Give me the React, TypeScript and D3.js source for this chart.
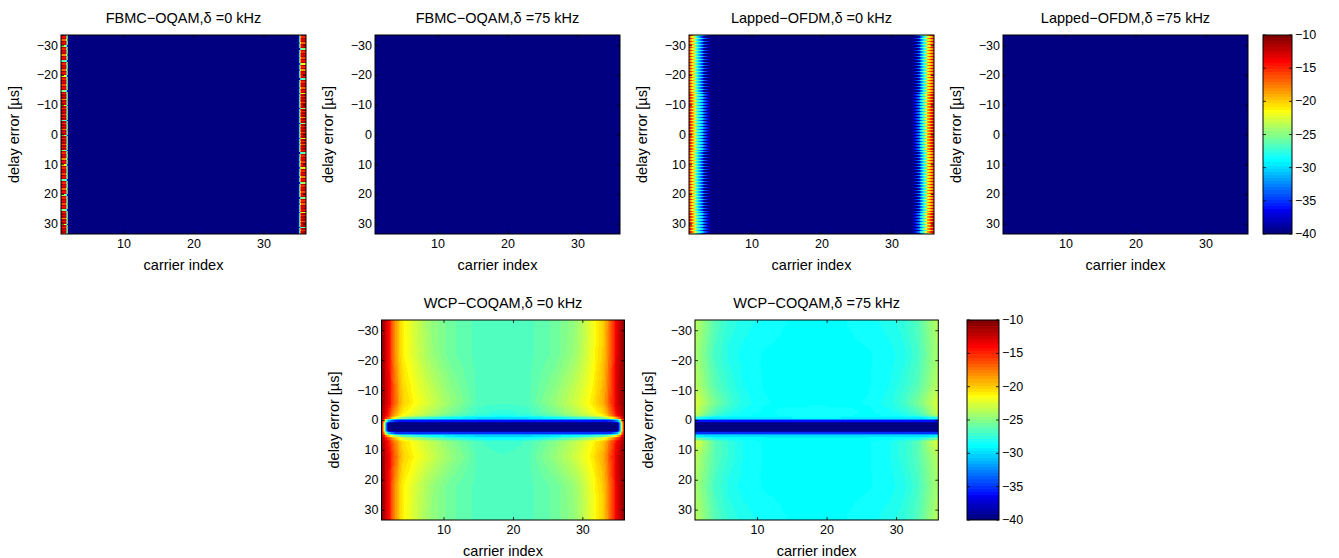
import React from "react";
import * as d3 from "d3";

const FONT = "'Liberation Sans', Arial, Helvetica, sans-serif";

// ---------- axes / ticks ----------
const xTicks = [10, 20, 30];
const yTicks = [-30, -20, -10, 0, 10, 20, 30];
const colorbarTicks = [-40, -35, -30, -25, -20, -15, -10];
const colorLimits: [number, number] = [-40, -10];
const carrierLimits: [number, number] = [1, 36];
const delayLimits: [number, number] = [-33.6, 33.3];
const delayStep = 0.5;

const titles = [
  "FBMC\u2212OQAM,\u03b4 =0 kHz",
  "FBMC\u2212OQAM,\u03b4 =75 kHz",
  "Lapped\u2212OFDM,\u03b4 =0 kHz",
  "Lapped\u2212OFDM,\u03b4 =75 kHz",
  "WCP\u2212COQAM,\u03b4 =0 kHz",
  "WCP\u2212COQAM,\u03b4 =75 kHz",
];
const xLabel = "carrier index";
const yLabel = "delay error [\u00b5s]";

// ---------- FBMC-OQAM, delta = 0 (striped edge carriers) ----------
const fbmcEdgeCarriers = [1, 1.7, 2.2, 34.8, 35.3, 36];
const fbmc0PeakRow = [-10.5, -12.5, -60, -60, -12.5, -10.5];
const fbmc0LeftLines = [
  -14, -17, -13, -24, -15, -13, -18, -14, -26, -15,
  -13, -17, -14, -22, -15, -13, -16, -14, -25, -15,
  -13, -18, -14, -21, -15, -13, -16, -14, -26, -15,
  -13, -17, -14, -24, -15, -13, -16, -14, -25, -15,
  -13, -18, -14, -21, -15, -13, -16, -14, -26, -15,
  -13, -17, -14, -24, -15, -13, -16, -14, -25, -15,
  -13, -18, -14, -22, -15, -13, -16,
];
const fbmc0RightLines = [
  -15, -13, -17, -14, -25, -15, -13, -16, -14, -22,
  -15, -18, -13, -14, -26, -15, -13, -17, -14, -21,
  -15, -13, -16, -14, -24, -15, -13, -18, -14, -25,
  -15, -13, -16, -14, -22, -15, -17, -13, -14, -26,
  -15, -13, -16, -14, -21, -15, -13, -18, -14, -24,
  -15, -13, -16, -14, -25, -15, -17, -13, -14, -22,
  -15, -13, -16, -14, -26, -15, -13,
];

// ---------- FBMC-OQAM, delta = 75 (flat) ----------
const flatCarriers = [1, 36];
const fbmc75Row = [-60, -60];

// ---------- Lapped-OFDM, delta = 0 (alternating rows) ----------
const lappedCarriers = [1, 2, 3, 4, 5, 32, 33, 34, 35, 36];
const lapped0RowA = [-11, -24, -31, -39, -50, -50, -39, -31, -20, -11];
const lapped0RowB = [-16, -27, -37, -46, -60, -60, -46, -36, -24, -16];

// ---------- Lapped-OFDM, delta = 75 (flat) ----------
const lapped75Row = [-60, -60];

// ---------- WCP-COQAM grids ----------
const wcpCarriers = [1, 2, 3, 4, 6, 8, 11, 15, 18.5, 22, 26, 29, 31, 33, 34, 35, 36];
const wcpDelays = [-33.6, -22, -12, -6, -2, -0.9, -0.4, 0.3, 1.0, 3.2, 3.9, 4.6, 5.4, 7, 12, 22, 33.3];

const wcp0Grid = [
  [-10.5, -14, -18.5, -21, -23, -24.5, -25.8, -26.6, -26.8, -26.6, -25.8, -24.5, -22.5, -20, -17, -13, -10.5],
  [-10.5, -14, -18.5, -21, -22.8, -24.3, -25.8, -26.6, -26.8, -26.6, -25.8, -24.3, -22.3, -19.8, -16.8, -12.8, -10.5],
  [-10.5, -13.5, -17.5, -20.3, -22, -23.3, -25, -26.6, -26.8, -26.6, -25, -23.3, -21.8, -19.3, -16.3, -12.5, -10.5],
  [-10.5, -13.5, -17, -20, -21.5, -22.8, -24.5, -26.6, -26.8, -26.6, -24.5, -22.8, -21.3, -19, -16, -12.5, -10.5],
  [-11, -15, -19, -21, -22.5, -23.8, -25.5, -27.3, -27.8, -27.3, -25.5, -23.8, -22.3, -20.5, -17.5, -13.5, -11],
  [-11, -16, -21, -24, -26, -27, -28.5, -29.5, -29.5, -29.5, -28.5, -27, -26, -24, -21, -17, -11],
  [-12, -26, -31, -32, -32, -32, -32, -32, -32, -32, -32, -32, -32, -32, -31, -27, -12],
  [-12, -33, -37, -37, -37, -37, -37, -37, -37, -37, -37, -37, -37, -37, -37, -34, -12],
  [-12, -40, -41, -41, -41, -41, -41, -41, -41, -41, -41, -41, -41, -41, -41, -40, -12],
  [-12, -40, -41, -41, -41, -41, -41, -41, -41, -41, -41, -41, -41, -41, -41, -40, -12],
  [-12, -33, -37, -37, -37, -37, -37, -37, -37, -37, -37, -37, -37, -37, -37, -34, -12],
  [-12, -26, -31, -32, -32, -32, -32, -32, -32, -32, -32, -32, -32, -32, -31, -27, -12],
  [-11, -17, -21, -23.5, -25.5, -27, -28.5, -29.5, -29.5, -29.5, -28.5, -27, -25.5, -23.5, -21, -17, -11],
  [-11, -14.5, -18, -20.5, -22, -23.3, -25, -26.8, -27.3, -26.8, -25, -23.3, -21.8, -19.8, -17, -13.5, -11],
  [-10.5, -13.5, -17, -20, -21.5, -22.8, -24.5, -26.6, -26.8, -26.6, -24.5, -22.8, -21.3, -19, -16, -12.5, -10.5],
  [-10.5, -14, -18.5, -21, -22.8, -24.3, -25.8, -26.6, -26.8, -26.6, -25.8, -24.3, -22.3, -19.8, -16.8, -12.8, -10.5],
  [-10.5, -14, -18.5, -21, -23, -24.5, -25.8, -26.6, -26.8, -26.6, -25.8, -24.5, -22.5, -20, -17, -13, -10.5],
];

const wcp75Grid = [
  [-23.5, -24.5, -25.5, -26.5, -27.5, -28, -28.5, -28.8, -28.9, -28.8, -28.5, -28, -27.5, -26.5, -25.5, -24.5, -23.5],
  [-24, -25, -26, -27, -28, -28.5, -28.8, -28.9, -28.9, -28.9, -28.8, -28.5, -28, -27, -26, -25, -24],
  [-23.5, -24.5, -25.5, -26.5, -27.5, -28.3, -28.8, -28.9, -28.9, -28.9, -28.8, -28.3, -27.5, -26.5, -25.5, -24.5, -23.5],
  [-22.5, -23.5, -24.5, -25.5, -27, -28, -28.7, -28.9, -28.9, -28.9, -28.7, -28, -27, -25.5, -24.5, -23.5, -22.5],
  [-23, -24.5, -26, -27, -28, -28.5, -28.9, -28.5, -28.3, -28.5, -28.9, -28.5, -28, -27, -26, -24.5, -23],
  [-27, -28, -28.9, -29.3, -29.3, -29.3, -29.3, -28.9, -28.7, -28.9, -29.3, -29.3, -29.3, -29.3, -28.9, -28, -27],
  [-32, -32, -32, -32, -32, -32, -32, -32, -32, -32, -32, -32, -32, -32, -32, -32, -32],
  [-37, -37, -37, -37, -37, -37, -37, -37, -37, -37, -37, -37, -37, -37, -37, -37, -37],
  [-41, -41, -41, -41, -41, -41, -41, -41, -41, -41, -41, -41, -41, -41, -41, -41, -41],
  [-41, -41, -41, -41, -41, -41, -41, -41, -41, -41, -41, -41, -41, -41, -41, -41, -41],
  [-37, -37, -37, -37, -37, -37, -37, -37, -37, -37, -37, -37, -37, -37, -37, -37, -37],
  [-32, -32, -32, -32, -32, -32, -32, -32, -32, -32, -32, -32, -32, -32, -32, -32, -32],
  [-27.5, -28.5, -28.9, -29.3, -29.3, -29.3, -29.3, -29.3, -29.3, -29.3, -29.3, -29.3, -29.3, -29.3, -28.9, -28.5, -27.5],
  [-22.5, -23.5, -25, -26.5, -27.5, -28.3, -28.8, -28.9, -28.9, -28.9, -28.8, -28.3, -27.5, -26.5, -25, -23.5, -22.5],
  [-23.5, -24.5, -25.5, -26.5, -27.5, -28.3, -28.8, -28.9, -28.9, -28.9, -28.8, -28.3, -27.5, -26.5, -25.5, -24.5, -23.5],
  [-24, -25, -26, -27, -28, -28.5, -28.8, -28.9, -28.9, -28.9, -28.8, -28.5, -28, -27, -26, -25, -24],
  [-23.5, -24.5, -25.5, -26.5, -27.5, -28, -28.5, -28.8, -28.9, -28.8, -28.5, -28, -27.5, -26.5, -25.5, -24.5, -23.5],
];

// ---------- MATLAB jet(64) ----------
const jetColors: string[] = (() => {
  const n = 16;
  const u = (j: number) =>
    j < 1 || j > 47 ? 0 : j <= n ? j / n : j <= 31 ? 1 : (48 - j) / n;
  const out: string[] = [];
  for (let i = 1; i <= 64; i++) {
    const r = u(i - 24);
    const g = u(i - 8);
    const b = i <= 40 ? u(i + 7) : 0;
    out.push(d3.rgb(Math.round(r * 255), Math.round(g * 255), Math.round(b * 255)).formatHex());
  }
  return out;
})();
const colorScale = d3.scaleQuantize<string>().domain(colorLimits).range(jetColors);

type Profile = { xs: number[]; vs: number[] };
type RowSource = (i: number, delay: number) => Profile;

function interp1(xs: number[], vs: number[], x: number) {
  const n = xs.length;
  if (x <= xs[0]) return vs[0];
  if (x >= xs[n - 1]) return vs[n - 1];
  const i = Math.min(n - 2, d3.bisectRight(xs, x) - 1);
  const t = (x - xs[i]) / (xs[i + 1] - xs[i]);
  return vs[i] + t * (vs[i + 1] - vs[i]);
}

function gridSource(xs: number[], ds: number[], grid: number[][]): RowSource {
  return (_i, d) => {
    let j = d3.bisectRight(ds, d) - 1;
    j = Math.max(0, Math.min(ds.length - 2, j));
    const t = Math.max(0, Math.min(1, (d - ds[j]) / (ds[j + 1] - ds[j])));
    const a = grid[j];
    const b = grid[j + 1];
    return { xs, vs: a.map((v, k) => v + t * (b[k] - v)) };
  };
}

const sources: RowSource[] = [
  (i) => {
    if (i % 2 === 0) return { xs: fbmcEdgeCarriers, vs: fbmc0PeakRow };
    const k = Math.min(fbmc0LeftLines.length - 1, Math.floor(i / 2));
    const L = fbmc0LeftLines[k];
    const R = fbmc0RightLines[k];
    return { xs: fbmcEdgeCarriers, vs: [L, L, -60, -60, R, R] };
  },
  () => ({ xs: flatCarriers, vs: fbmc75Row }),
  (i) => ({ xs: lappedCarriers, vs: i % 2 === 0 ? lapped0RowA : lapped0RowB }),
  () => ({ xs: flatCarriers, vs: lapped75Row }),
  gridSource(wcpCarriers, wcpDelays, wcp0Grid),
  gridSource(wcpCarriers, wcpDelays, wcp75Grid),
];

const layout = [
  { left: 61, top: 35, width: 245, height: 199 },
  { left: 375, top: 35, width: 245, height: 199 },
  { left: 689, top: 35, width: 245, height: 199 },
  { left: 1003, top: 35, width: 245, height: 199 },
  { left: 381.5, top: 320, width: 243, height: 200 },
  { left: 695, top: 320, width: 243.3, height: 200 },
];
const colorbars = [
  { left: 1263, top: 35, width: 29, height: 199 },
  { left: 967, top: 320, width: 32, height: 200 },
];

type Cell = { x0: number; x1: number; d0: number; d1: number; color: string };

function buildCells(src: RowSource): Cell[] {
  const cells: Cell[] = [];
  const nRows = Math.ceil((delayLimits[1] - delayLimits[0]) / delayStep - 1e-9);
  const step = 0.125;
  const nS = Math.round((carrierLimits[1] - carrierLimits[0]) / step);
  for (let i = 0; i < nRows; i++) {
    const d0 = delayLimits[0] + i * delayStep;
    const d1 = Math.min(d0 + delayStep, delayLimits[1]);
    const { xs, vs } = src(i, (d0 + d1) / 2);
    let runStart = carrierLimits[0];
    let runColor: string | null = null;
    for (let s = 0; s <= nS; s++) {
      const c = carrierLimits[0] + s * step;
      const col = colorScale(interp1(xs, vs, c));
      if (runColor === null) {
        runColor = col;
      } else if (col !== runColor) {
        const edge = c - step / 2;
        cells.push({ x0: runStart, x1: edge, d0, d1, color: runColor });
        runStart = edge;
        runColor = col;
      }
    }
    cells.push({ x0: runStart, x1: carrierLimits[1], d0, d1, color: runColor as string });
  }
  return cells;
}

const fmt = (v: number) => (v < 0 ? "\u2212" + Math.abs(v) : String(v));

function Panel({ idx }: { idx: number }) {
  const { left, top, width, height } = layout[idx];
  const x = d3.scaleLinear().domain(carrierLimits).range([left, left + width]);
  const y = d3.scaleLinear().domain(delayLimits).range([top, top + height]);
  const cells = React.useMemo(() => buildCells(sources[idx]), [idx]);
  const tl = 3;
  return (
    <g>
      <g shapeRendering="crispEdges">
        {cells.map((c, k) => (
          <rect
            key={k}
            x={x(c.x0)}
            y={y(c.d0)}
            width={x(c.x1) - x(c.x0)}
            height={y(c.d1) - y(c.d0)}
            fill={c.color}
          />
        ))}
      </g>
      <rect x={left} y={top} width={width} height={height} fill="none" stroke="#000" strokeWidth={1} />
      {xTicks.map((t) => (
        <g key={"x" + t}>
          <line x1={x(t)} x2={x(t)} y1={top + height} y2={top + height - tl} stroke="#000" strokeWidth={0.8} />
          <line x1={x(t)} x2={x(t)} y1={top} y2={top + tl} stroke="#000" strokeWidth={0.8} />
          <text x={x(t)} y={top + height + 14} textAnchor="middle" fontSize={12.5}>
            {fmt(t)}
          </text>
        </g>
      ))}
      {yTicks.map((t) => (
        <g key={"y" + t}>
          <line x1={left} x2={left + tl} y1={y(t)} y2={y(t)} stroke="#000" strokeWidth={0.8} />
          <line x1={left + width} x2={left + width - tl} y1={y(t)} y2={y(t)} stroke="#000" strokeWidth={0.8} />
          <text x={left - 3} y={y(t)} textAnchor="end" dominantBaseline="central" fontSize={12.5}>
            {fmt(t)}
          </text>
        </g>
      ))}
      <text x={left + width / 2} y={top - 12.5} textAnchor="middle" fontSize={14.5} fontWeight="normal">
        {titles[idx]}
      </text>
      <text x={left + width / 2} y={top + height + 36} textAnchor="middle" fontSize={14.5}>
        {xLabel}
      </text>
      <text
        transform={`translate(${left - 42.5},${top + height / 2}) rotate(-90)`}
        textAnchor="middle"
        fontSize={14.5}
      >
        {yLabel}
      </text>
    </g>
  );
}

function Colorbar({ idx }: { idx: number }) {
  const { left, top, width, height } = colorbars[idx];
  const y = d3.scaleLinear().domain(colorLimits).range([top + height, top]);
  const n = jetColors.length;
  const bandW = (colorLimits[1] - colorLimits[0]) / n;
  const tl = 3;
  return (
    <g>
      <g shapeRendering="crispEdges">
        {jetColors.map((c, k) => {
          const v0 = colorLimits[0] + k * bandW;
          const v1 = v0 + bandW;
          return <rect key={k} x={left} y={y(v1)} width={width} height={y(v0) - y(v1)} fill={c} />;
        })}
      </g>
      <rect x={left} y={top} width={width} height={height} fill="none" stroke="#000" strokeWidth={1} />
      {colorbarTicks.map((t) => (
        <g key={t}>
          <line x1={left + width} x2={left + width - tl} y1={y(t)} y2={y(t)} stroke="#000" strokeWidth={0.8} />
          <line x1={left} x2={left + tl} y1={y(t)} y2={y(t)} stroke="#000" strokeWidth={0.8} />
          <text x={left + width + 3} y={y(t)} dominantBaseline="central" fontSize={12.5}>
            {fmt(t)}
          </text>
        </g>
      ))}
    </g>
  );
}

export default function App() {
  return (
    <svg
      width={1339}
      height={558}
      style={{ position: "absolute", left: 0, top: 0, display: "block" }}
      fontFamily={FONT}
    >
      <rect x={0} y={0} width={1339} height={558} fill="#fff" />
      {layout.map((_, i) => (
        <Panel key={i} idx={i} />
      ))}
      {colorbars.map((_, i) => (
        <Colorbar key={i} idx={i} />
      ))}
    </svg>
  );
}
